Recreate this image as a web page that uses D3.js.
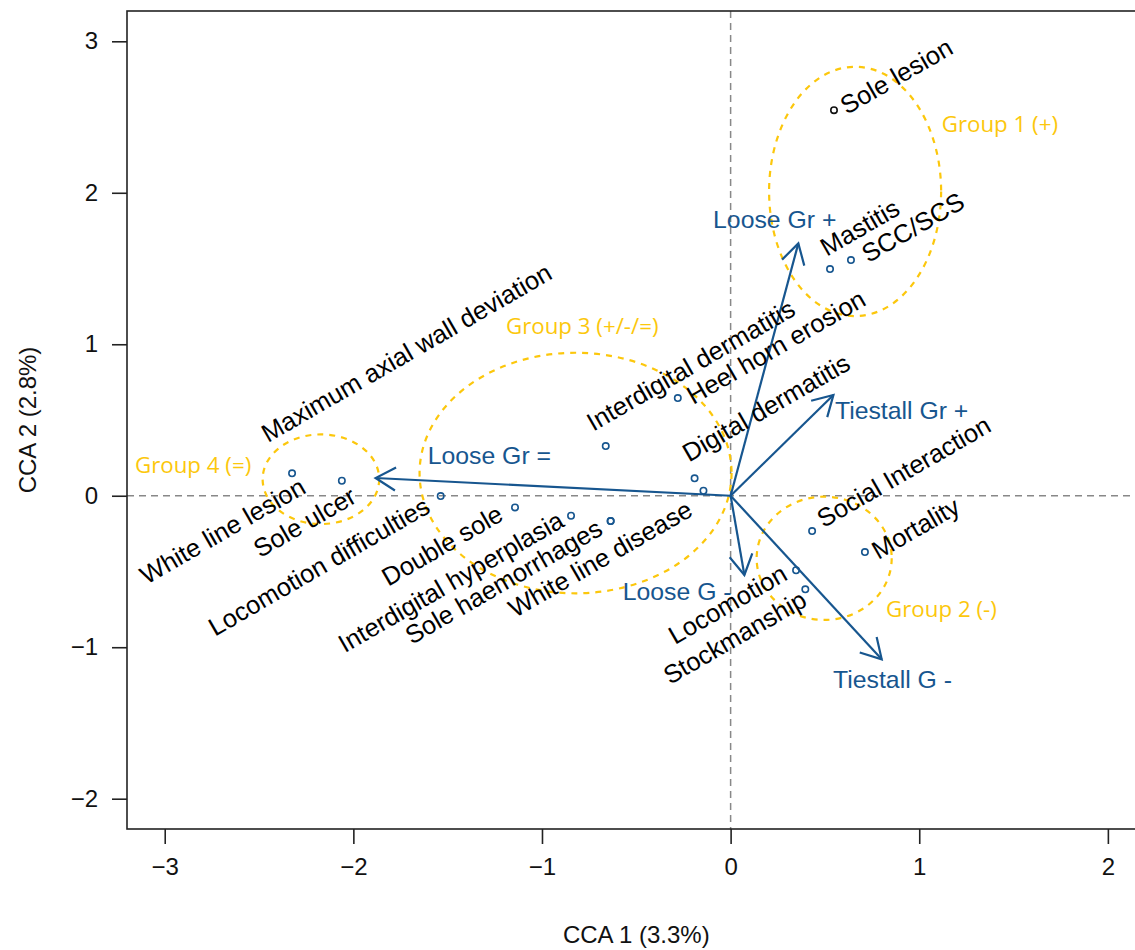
<!DOCTYPE html>
<html>
<head>
<meta charset="utf-8">
<script src="https://cdn.jsdelivr.net/npm/d3@7"></script>
<style>
  body { margin: 0; background: #fff; }
  svg text { font-family: "Liberation Sans", Arial, sans-serif; }
</style>
</head>
<body>
<svg id="chart" width="1135" height="950"></svg>
<script>
// species / trait scores (CCA 1, CCA 2)
let traitNames = ["Sole lesion", "Mastitis", "SCC/SCS", "White line lesion", "Sole ulcer",
    "Locomotion difficulties", "Double sole", "Interdigital hyperplasia", "Sole haemorrhages",
    "White line disease", "Maximum axial wall deviation", "Interdigital dermatitis",
    "Heel horn erosion", "Digital dermatitis", "Social Interaction", "Mortality",
    "Locomotion", "Stockmanship"];
let traitCCA1 = [0.548, 0.527, 0.638, -2.325, -2.061, -1.537, -1.143, -0.846, -0.636,
    -0.636, -0.662, -0.280, -0.191, -0.144, 0.432, 0.712, 0.347, 0.396];
let traitCCA2 = [2.545, 1.496, 1.556, 0.148, 0.099, -0.002, -0.077, -0.132, -0.167,
    -0.167, 0.328, 0.645, 0.115, 0.033, -0.233, -0.372, -0.492, -0.618];
// label anchors (data units), placed by hand in the original
let traitLabelX = [0.616, 0.510, 0.730, -3.096, -2.495, -2.734, -1.815, -2.045, -1.691,
    -1.143, -2.453, -0.728, -0.198, -0.221, 0.492, 0.783, -0.295, -0.322];
let traitLabelY = [2.513, 1.578, 1.534, -0.589, -0.413, -0.931, -0.601, -1.040, -0.985,
    -0.809, 0.348, 0.422, 0.599, 0.219, -0.215, -0.424, -0.985, -1.250];

// environmental arrows
let envNames = ["Loose Gr +", "Tiestall Gr +", "Tiestall G -", "Loose G -", "Loose Gr ="];
let envCCA1 = [0.359, 0.545, 0.801, 0.073, -1.882];
let envCCA2 = [1.666, 0.665, -1.080, -0.523, 0.117];
let envLabelX = [-0.093, 0.553, 0.543, -0.572, -1.606];
let envLabelY = [1.766, 0.506, -1.269, -0.688, 0.207];

// groups (ellipses)
let groupNames = ["Group 1 (+)", "Group 2 (-)", "Group 3 (+/-/=)", "Group 4 (=)"];
let groupCX = [0.660, 0.496, -0.822, -2.172];
let groupCY = [2.009, -0.413, 0.150, 0.109];
let groupRX = [0.456, 0.358, 0.827, 0.309];
let groupRY = [0.823, 0.407, 0.794, 0.296];
let groupLabelX = [1.119, 0.824, -1.191, -3.158];
let groupLabelY = [2.403, -0.803, 1.065, 0.148];

let xTicks = [-3, -2, -1, 0, 1, 2];
let yTicks = [-2, -1, 0, 1, 2, 3];

let blue = "#17568f";
let gold = "#fcc70c";

let svg = d3.select("#chart");
let plotLeft = 127, plotRight = 1145.6, plotTop = 11, plotBottom = 829;

let x = d3.scaleLinear().domain([-3.2, 2.2]).range([plotLeft, plotRight]);
let y = d3.scaleLinear().domain([-2.2, 3.2]).range([plotBottom, plotTop]);

// axes
let xAxis = d3.axisBottom(x).tickValues(xTicks).tickSize(15).tickPadding(14)
    .tickFormat(d => d < 0 ? "\u2212" + Math.abs(d) : d);
let yAxis = d3.axisLeft(y).tickValues(yTicks).tickSize(15).tickPadding(14)
    .tickFormat(d => d < 0 ? "\u2212" + Math.abs(d) : d);

let gx = svg.append("g").attr("transform", "translate(0," + plotBottom + ")").call(xAxis);
let gy = svg.append("g").attr("transform", "translate(" + plotLeft + ",0)").call(yAxis);
[gx, gy].forEach(g => {
    g.select(".domain").remove();
    g.selectAll(".tick line").attr("stroke", "#222").attr("stroke-width", 1.6);
    g.selectAll(".tick text").attr("fill", "#111").style("font-size", "24px")
        .style("font-family", "'Liberation Sans', Arial, sans-serif");
});

// zero lines
svg.append("line").attr("x1", plotLeft).attr("x2", plotRight).attr("y1", y(0)).attr("y2", y(0))
    .attr("stroke", "#888").attr("stroke-width", 1.5).attr("stroke-dasharray", "7,5");
svg.append("line").attr("x1", x(0)).attr("x2", x(0)).attr("y1", plotTop).attr("y2", plotBottom)
    .attr("stroke", "#888").attr("stroke-width", 1.5).attr("stroke-dasharray", "7,5");

// box
svg.append("rect").attr("x", plotLeft).attr("y", plotTop)
    .attr("width", plotRight - plotLeft).attr("height", plotBottom - plotTop)
    .attr("fill", "none").attr("stroke", "#222").attr("stroke-width", 1.6);

// ellipses
groupNames.forEach((name, i) => {
    svg.append("ellipse")
        .attr("cx", x(groupCX[i])).attr("cy", y(groupCY[i]))
        .attr("rx", x(groupRX[i]) - x(0)).attr("ry", y(0) - y(groupRY[i]))
        .attr("fill", "none").attr("stroke", gold).attr("stroke-width", 2.2)
        .attr("stroke-dasharray", "6,6");
    svg.append("text")
        .attr("x", x(groupLabelX[i])).attr("y", y(groupLabelY[i]))
        .attr("fill", gold).style("font-family", "'Open Sans', sans-serif")
        .style("font-size", "22.3px").text(name);
});

// arrows
let ox = x(0), oy = y(0);
envNames.forEach((name, i) => {
    let tx = x(envCCA1[i]), ty = y(envCCA2[i]);
    let ang = Math.atan2(ty - oy, tx - ox);
    let len = 23, spread = Math.PI / 6;
    let a1 = ang + Math.PI - spread, a2 = ang + Math.PI + spread;
    svg.append("line").attr("x1", ox).attr("y1", oy).attr("x2", tx).attr("y2", ty)
        .attr("stroke", blue).attr("stroke-width", 2.2);
    svg.append("path")
        .attr("d", "M" + (tx + len * Math.cos(a1)) + "," + (ty + len * Math.sin(a1)) +
            "L" + tx + "," + ty +
            "L" + (tx + len * Math.cos(a2)) + "," + (ty + len * Math.sin(a2)))
        .attr("fill", "none").attr("stroke", blue).attr("stroke-width", 2.2);
    svg.append("text")
        .attr("x", x(envLabelX[i])).attr("y", y(envLabelY[i]))
        .attr("fill", blue).style("font-size", "24.8px").text(name);
});

// trait points
traitNames.forEach((name, i) => {
    svg.append("circle")
        .attr("cx", x(traitCCA1[i])).attr("cy", y(traitCCA2[i])).attr("r", 3.2)
        .attr("fill", "none").attr("stroke", i === 0 ? "#111" : blue).attr("stroke-width", 1.6);
    svg.append("text")
        .attr("transform", "translate(" + x(traitLabelX[i]) + "," + y(traitLabelY[i]) + ") rotate(-30)")
        .attr("fill", "#000").style("font-size", "25.5px").text(name);
});

// axis titles
svg.append("text").attr("x", (plotLeft + plotRight) / 2).attr("y", 943)
    .attr("text-anchor", "middle").attr("fill", "#111").style("font-size", "24px")
    .text("CCA 1 (3.3%)");
svg.append("text").attr("transform", "translate(36," + ((plotTop + plotBottom) / 2) + ") rotate(-90)")
    .attr("text-anchor", "middle").attr("fill", "#111").style("font-size", "24px")
    .text("CCA 2 (2.8%)");
</script>
</body>
</html>
